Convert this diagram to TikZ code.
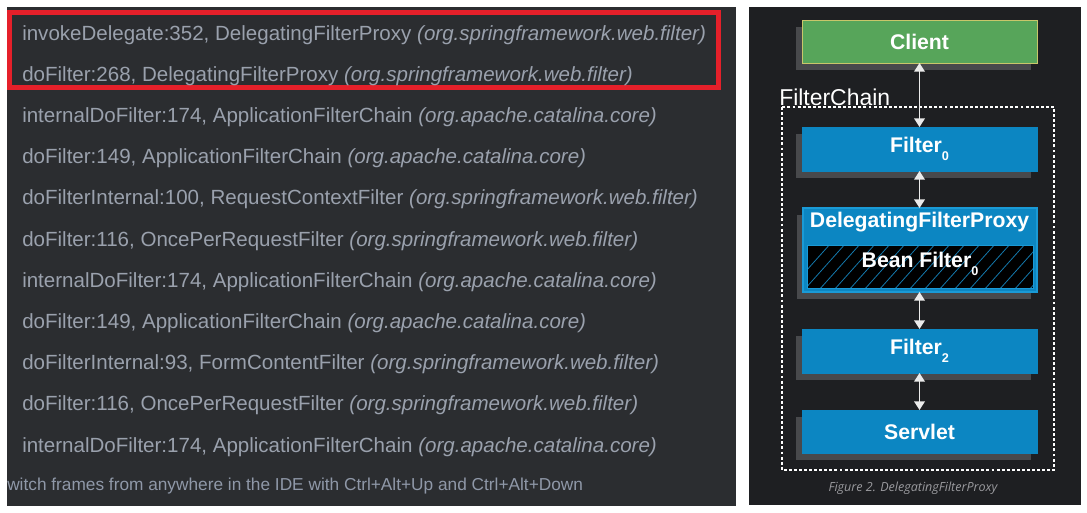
\documentclass[tikz,border=0pt]{standalone}
\usepackage{fontspec}
\setmainfont{Liberation Sans}
\newfontfamily\capfont{Open Sans}
\usetikzlibrary{arrows.meta,shadows}
\definecolor{leftbg}{HTML}{2B2D30}
\definecolor{rightbg}{HTML}{1E1F22}
\definecolor{idetext}{HTML}{9AA1AD}
\definecolor{idefoot}{HTML}{8F98A8}
\definecolor{redframe}{HTML}{E5202A}
\definecolor{boxblue}{HTML}{0C86C2}
\definecolor{boxblueedge}{HTML}{1A9AD6}
\definecolor{hatchblue}{HTML}{1479AC}
\definecolor{clientgreen}{HTML}{57A55A}
\definecolor{clientedge}{HTML}{C9C66A}
\definecolor{shadowgray}{HTML}{48494C}
\definecolor{capgray}{HTML}{9A9A9E}
\tikzset{
  stackline/.style={anchor=base west, inner sep=0pt, text=idetext, font=\fontsize{15.4pt}{18pt}\selectfont},
  boxshadow/.style={drop shadow={shadow xshift=-4.5pt, shadow yshift=-5.25pt, fill=shadowgray, opacity=1}},
  flowbox/.style={draw=boxblue, fill=boxblue, line width=0.75pt, minimum width=176.25pt, minimum height=33pt, inner sep=0pt, outer sep=0pt, text=white, font=\bfseries\fontsize{15.9pt}{18pt}\selectfont, boxshadow},
  biarrow/.style={draw={rgb,255:red,235;green,235;blue,235}, line width=1.1pt, {Triangle[width=8pt,length=6.5pt]}-{Triangle[width=8pt,length=6.5pt]}}
}
\newcommand{\subz}[1]{\raisebox{-0.35em}{\fontsize{9.5pt}{10pt}\selectfont #1}}
\begin{document}
\begin{tikzpicture}[x=0.75pt,y=-0.75pt]
\useasboundingbox (0,0) rectangle (1087,512);
\fill[white] (0,0) rectangle (1087,512);
% left panel
\fill[leftbg] (7,7) rectangle (736,506);
\draw[redframe, line width=3.75pt] (9.5,12) rectangle (718,87);
\node[stackline] (l1) at (22,40) {invokeDelegate:352, DelegatingFilterProxy \textit{(org.springframework.web.filter)}};
\node[stackline] (l2) at (22,81.2) {doFilter:268, DelegatingFilterProxy \textit{(org.springframework.web.filter)}};
\node[stackline] (l3) at (22,122.4) {internalDoFilter:174, ApplicationFilterChain \textit{(org.apache.catalina.core)}};
\node[stackline] (l4) at (22,163.6) {doFilter:149, ApplicationFilterChain \textit{(org.apache.catalina.core)}};
\node[stackline] (l5) at (22,204.8) {doFilterInternal:100, RequestContextFilter \textit{(org.springframework.web.filter)}};
\node[stackline] (l6) at (22,246) {doFilter:116, OncePerRequestFilter \textit{(org.springframework.web.filter)}};
\node[stackline] (l7) at (22,287.2) {internalDoFilter:174, ApplicationFilterChain \textit{(org.apache.catalina.core)}};
\node[stackline] (l8) at (22,328.4) {doFilter:149, ApplicationFilterChain \textit{(org.apache.catalina.core)}};
\node[stackline] (l9) at (22,369.6) {doFilterInternal:93, FormContentFilter \textit{(org.springframework.web.filter)}};
\node[stackline] (l10) at (22,410.8) {doFilter:116, OncePerRequestFilter \textit{(org.springframework.web.filter)}};
\node[stackline] (l11) at (22,452) {internalDoFilter:174, ApplicationFilterChain \textit{(org.apache.catalina.core)}};
\node[anchor=base west, inner sep=0pt, text=idefoot, font=\fontsize{12.95pt}{14pt}\selectfont] (foot) at (7,490) {witch frames from anywhere in the IDE with Ctrl+Alt+Up and Ctrl+Alt+Down};
% right panel
\fill[rightbg] (749,7) rectangle (1081,505);
\draw[white, line width=0.9pt, dash pattern=on 2.2pt off 1.6pt] (782,107) rectangle (1054,470);
\node[anchor=west, inner sep=0pt, text=white, font=\fontsize{17.2pt}{19pt}\selectfont] (fc) at (779,97) {FilterChain};
\node[flowbox, draw=clientedge, fill=clientgreen, minimum height=32.25pt] (client) at (919.5,41.5) {Client};
\node[flowbox] (f0) at (919.5,149) {Filter\subz{0}};
\node[flowbox, draw=boxblueedge, line width=1.5pt, minimum height=63pt, minimum width=175.5pt] (dfp) at (919.5,250) {};
\node[anchor=center, inner sep=0pt, text=white, font=\bfseries\fontsize{15.9pt}{18pt}\selectfont] (dfpt) at (919.5,222) {DelegatingFilterProxy};
\node[draw=boxblueedge, fill=black, line width=0.75pt, minimum width=169.5pt, minimum height=32.25pt, inner sep=0pt] (bean) at (920,266.5) {};
\begin{scope}
\clip (807,245) rectangle (1033,288);
\foreach \k in {0,...,20} {
  \draw[hatchblue, line width=0.6pt] ({780+\k*15},300) -- ({780+\k*15+60},233);
}
\end{scope}
\draw[boxblueedge, line width=0.75pt] (807,245) rectangle (1033,288);
\node[inner sep=0pt, text=white, font=\bfseries\fontsize{15.9pt}{18pt}\selectfont] (beant) at (920,264) {Bean Filter\subz{0}};
\node[flowbox] (f2) at (919.5,351) {Filter\subz{2}};
\node[flowbox, minimum height=32.25pt] (servlet) at (919.5,431.5) {Servlet};
\node[inner sep=0pt, text=capgray, font=\capfont\itshape\fontsize{9.4pt}{11pt}\selectfont] (cap) at (913,488) {Figure 2. DelegatingFilterProxy};
% connectors
\draw[biarrow] (client.south) -- (f0.north);
\draw[biarrow] (f0.south) -- (dfp.north);
\draw[biarrow] (dfp.south) -- (f2.north);
\draw[biarrow] (f2.south) -- (servlet.north);
\end{tikzpicture}
\end{document}
